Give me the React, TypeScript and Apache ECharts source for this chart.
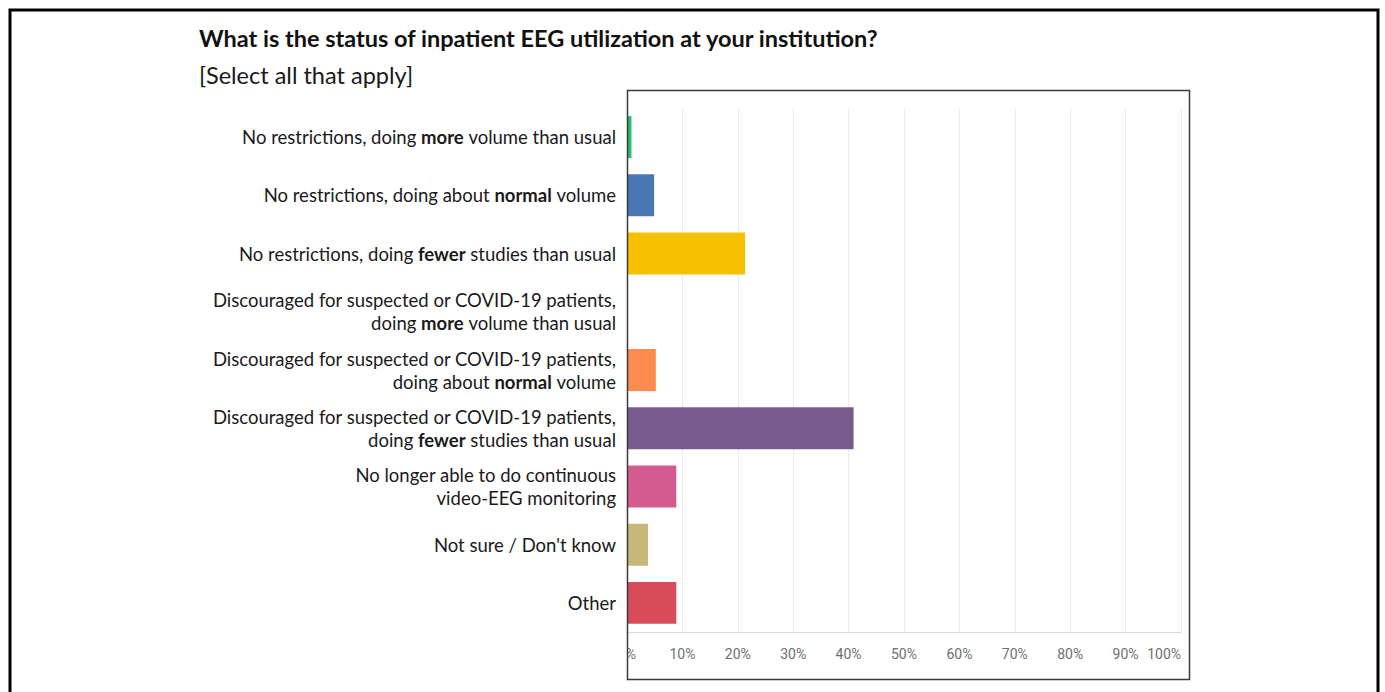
import React, { useEffect, useRef } from "react";
import * as echarts from "echarts";

const titleText = "What is the status of inpatient EEG utilization at your institution?";
const subtitleText = "[Select all that apply]";

const categories = [
  "No restrictions, doing more volume than usual",
  "No restrictions, doing about normal volume",
  "No restrictions, doing fewer studies than usual",
  "Discouraged for suspected or COVID-19 patients,\ndoing more volume than usual",
  "Discouraged for suspected or COVID-19 patients,\ndoing about normal volume",
  "Discouraged for suspected or COVID-19 patients,\ndoing fewer studies than usual",
  "No longer able to do continuous\nvideo-EEG monitoring",
  "Not sure / Don't know",
  "Other",
];
const boldWords = ["more", "normal", "fewer", "more", "normal", "fewer", "", "", ""];
const values = [0.8, 4.9, 21.3, 0, 5.2, 40.9, 8.9, 3.8, 8.9];
const barColors = [
  "#1fbf6e",
  "#4a76b6",
  "#f6bf00",
  "#9aa7cf",
  "#fd8b50",
  "#7a5b8f",
  "#d45c91",
  "#c8b778",
  "#da4b5b",
];
const xTicks = [0, 10, 20, 30, 40, 50, 60, 70, 80, 90, 100];

const FONT = "Lato, 'Open Sans', sans-serif";

function formatLabel(value: string, idx: number): string {
  const bw = boldWords[idx];
  const lines = value.split("\n");
  return lines
    .map((line) => {
      if (bw) {
        const key = " " + bw + " ";
        const pos = line.indexOf(key);
        if (pos >= 0) {
          return (
            "{n|" + line.slice(0, pos + 1) + "}{b|" + bw + "}{n|" + line.slice(pos + 1 + bw.length) + "}"
          );
        }
      }
      return "{n|" + line + "}";
    })
    .join("\n");
}

export default function App() {
  const ref = useRef<HTMLDivElement>(null);
  useEffect(() => {
    if (!ref.current) return;
    const chart = echarts.init(ref.current, undefined, { renderer: "svg" });
    chart.setOption({
      animation: false,
      backgroundColor: "#ffffff",
      grid: { left: 627, right: 1385 - 1181, top: 108, bottom: 692 - 632, containLabel: false },
      xAxis: {
        type: "value",
        min: 0,
        max: 100,
        interval: 10,
        axisLine: { show: true, lineStyle: { color: "#d9d9d9", width: 1 } },
        axisTick: { show: false },
        splitLine: { show: true, lineStyle: { color: "#ececec", width: 1 } },
        axisLabel: {
          formatter: (v: number) => (xTicks.includes(v) ? v + "%" : ""),
          color: "#6f6f6f",
          fontSize: 14,
          fontFamily: "Roboto, sans-serif",
          margin: 15,
          alignMaxLabel: "right",
        },
      },
      yAxis: {
        type: "category",
        inverse: true,
        data: categories,
        axisLine: { show: false },
        axisTick: { show: false },
        splitLine: { show: false },
        axisLabel: {
          margin: 11,
          align: "right",
          formatter: formatLabel,
          rich: {
            n: { fontFamily: FONT, fontSize: 18.5, color: "#1a1a1a", lineHeight: 23 },
            b: { fontFamily: FONT, fontSize: 18.5, fontWeight: "bold", color: "#1a1a1a", lineHeight: 23 },
          },
        },
      },
      series: [
        {
          type: "bar",
          data: values.map((v, i) => ({ value: v, itemStyle: { color: barColors[i] } })),
          barCategoryGap: "28%",
        },
      ],
      graphic: [
        {
          type: "rect",
          shape: { x: 10, y: 10, width: 1368, height: 700 },
          style: { fill: "none", stroke: "#000000", lineWidth: 3 },
          z: 100,
          silent: true,
        },
        {
          type: "rect",
          shape: { x: 600, y: 640, width: 27, height: 30 },
          style: { fill: "#ffffff" },
          z: 90,
          silent: true,
        },
        {
          type: "rect",
          shape: { x: 627.5, y: 90.5, width: 562, height: 589 },
          style: { fill: "none", stroke: "#3a3a3a", lineWidth: 1.5 },
          z: 100,
          silent: true,
        },
        {
          type: "text",
          x: 199,
          y: 38,
          style: {
            text: titleText,
            font: "bold 23.5px " + FONT,
            fill: "#111111",
            textVerticalAlign: "middle",
          },
          z: 100,
        },
        {
          type: "text",
          x: 199,
          y: 75,
          style: {
            text: subtitleText,
            font: "23.5px " + FONT,
            fill: "#1a1a1a",
            textVerticalAlign: "middle",
          },
          z: 100,
        },
      ],
    });
    return () => chart.dispose();
  }, []);
  return (
    <div
      ref={ref}
      style={{ position: "fixed", left: 0, top: 0, width: 1385, height: 692, background: "#fff" }}
    />
  );
}
